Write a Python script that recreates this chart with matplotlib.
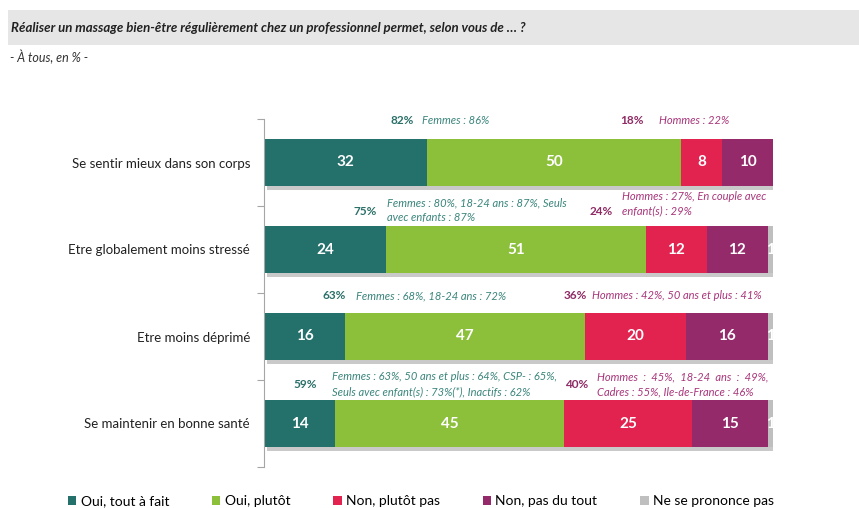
import matplotlib.pyplot as plt
import matplotlib.patheffects as pe
from matplotlib.patches import Rectangle, Patch
import numpy as np

plt.rcParams['font.family'] = ['Lato', 'DejaVu Sans']

categories = ['Se sentir mieux dans son corps', 'Etre globalement moins stressé',
              'Etre moins déprimé', 'Se maintenir en bonne santé']
series_names = ['Oui, tout à fait', 'Oui, plutôt', 'Non, plutôt pas',
                'Non, pas du tout', 'Ne se prononce pas']
oui_tout = [32, 24, 16, 14]
oui_plutot = [50, 51, 47, 45]
non_plutot = [8, 12, 20, 25]
non_pas = [10, 12, 16, 15]
nsp = [0, 1, 1, 1]

total_oui = ['82%', '75%', '63%', '59%']
total_non = ['18%', '24%', '36%', '40%']
notes_oui = [['Femmes : 86%'],
             ['Femmes : 80%, 18-24 ans : 87%, Seuls', 'avec enfants : 87%'],
             ['Femmes : 68%, 18-24 ans : 72%'],
             ['Femmes : 63%, 50 ans et plus : 64%, CSP- : 65%,',
              'Seuls avec enfant(s) : 73%(*), Inactifs : 62%']]
notes_non = [['Hommes : 22%'],
             ['Hommes : 27%, En couple avec', 'enfant(s) : 29%'],
             ['Hommes : 42%, 50 ans et plus : 41%'],
             ['Hommes  :  45%,  18-24  ans  :  49%,', 'Cadres : 55%, Ile-de-France : 46%']]

colors = ['#24706b', '#8cc03b', '#e2234f', '#952a6b', '#bfbfbf']
teal_txt = '#3a857c'
mag_txt = '#a8357a'

fig = plt.figure(figsize=(8.59, 5.08), dpi=100)

# title banner
fig.patches.append(Rectangle((8 / 859, 1 - 45 / 508), 1, 35 / 508, transform=fig.transFigure,
                             facecolor='#e6e6e6', edgecolor='none', zorder=0))
fig.text(11 / 859, 1 - 28 / 508,
         'Réaliser un massage bien-être régulièrement chez un professionnel permet, selon vous de … ?',
         fontsize=9.5, fontweight='bold', fontstyle='italic', color='#222222', va='center')
fig.text(10 / 859, 1 - 57 / 508, '- À tous, en % -', fontsize=9, fontstyle='italic',
         color='#333333', va='center')

ax = fig.add_axes([264 / 859, 41 / 508, 509 / 859, 348 / 508])
y = np.arange(len(categories))
series = [oui_tout, oui_plutot, non_plutot, non_pas, nsp]
left = np.zeros(len(categories))
shadow = [pe.SimplePatchShadow(offset=(2, -3), shadow_rgbFace='#888888', alpha=0.45), pe.Normal()]
for name, vals, col in zip(series_names, series, colors):
    vals = np.array(vals, dtype=float)
    bars = ax.barh(y, vals, left=left, height=0.53, color=col, zorder=2)
    for b in bars:
        b.set_path_effects(shadow)
    for yi, v, l in zip(y, vals, left):
        if v > 0:
            ax.text(l + v / 2, yi, f'{int(v)}', color='white', fontsize=11,
                    fontweight='bold', ha='center', va='center', zorder=3)
    left += vals

# annotations: (x of total, x of note start, y offsets of lines, y of total)
oui_pos = [(27.2, 31.0, [-0.48], -0.48), (19.8, 24.2, [-0.53, -0.37], -0.44),
           (13.8, 18.1, [-0.47], -0.47), (8.1, 13.4, [-0.54, -0.36], -0.45)]
non_pos = [(72.3, 77.6, [-0.48], -0.48), (66.2, 70.3, [-0.61, -0.44], -0.44),
           (61.1, 64.4, [-0.47], -0.47), (61.5, 65.4, [-0.54, -0.36], -0.45)]
for i in range(len(categories)):
    xt, xn, ys, yt = oui_pos[i]
    ax.text(xt, i + yt, total_oui[i], color='#2a6f68', fontsize=8.5, fontweight='bold',
            ha='center', va='center', clip_on=False)
    for line, yy in zip(notes_oui[i], ys):
        ax.text(xn, i + yy, line, color=teal_txt, fontsize=8, fontstyle='italic',
                ha='left', va='center', clip_on=False)
    xt, xn, ys, yt = non_pos[i]
    ax.text(xt, i + yt, total_non[i], color='#8e2a64', fontsize=8.5, fontweight='bold',
            ha='center', va='center', clip_on=False)
    for line, yy in zip(notes_non[i], ys):
        ax.text(xn, i + yy, line, color=mag_txt, fontsize=8, fontstyle='italic',
                ha='left', va='center', clip_on=False)

ax.set_xlim(0, 100)
ax.set_ylim(3.5, -0.5)
for s in ['top', 'right', 'bottom']:
    ax.spines[s].set_visible(False)
ax.spines['left'].set_color('#a6a6a6')
ax.set_xticks([])
ax.set_yticks(np.arange(-0.5, 4, 1.0))
ax.set_yticklabels([])
ax.tick_params(axis='y', which='major', length=5, color='#a6a6a6')
ax.set_yticks(y, minor=True)
ax.set_yticklabels(categories, minor=True, fontsize=9.5, color='#222222')
ax.tick_params(axis='y', which='minor', length=0, pad=10)

handles = [Patch(facecolor=c, edgecolor='none', label=n) for n, c in zip(series_names, colors)]
fig.legend(handles=handles, loc='center', bbox_to_anchor=(421 / 859, 1 - 501 / 508), ncol=5,
           frameon=False, fontsize=10, handlelength=0.6, handleheight=0.6, handletextpad=0.3,
           columnspacing=3.1)

fig.savefig('out.png', dpi=100)
